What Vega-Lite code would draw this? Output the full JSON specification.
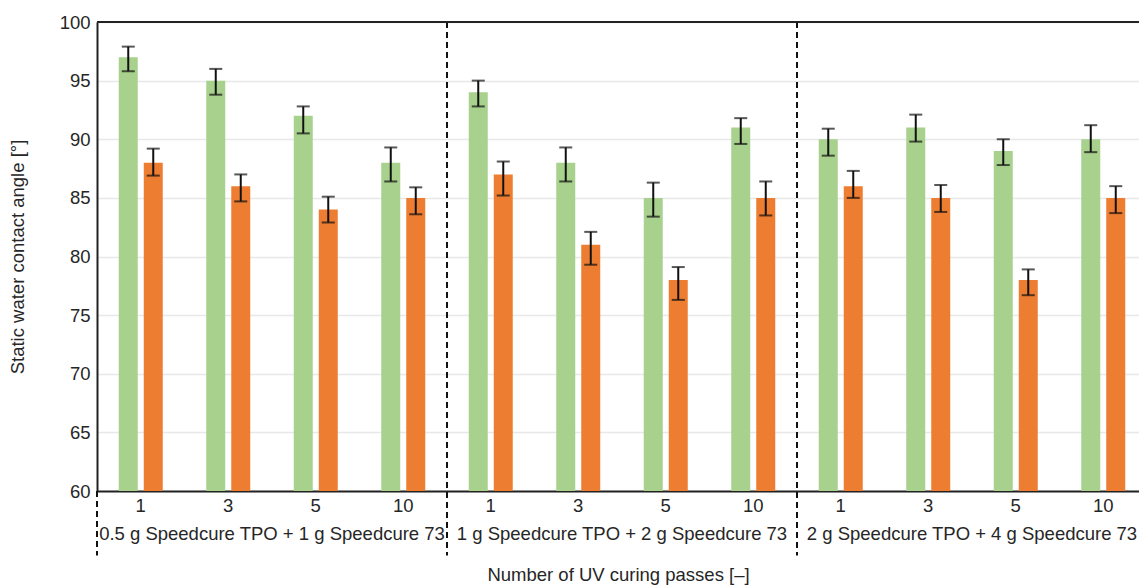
{
  "$schema": "https://vega.github.io/schema/vega-lite/v6.json",
  "width": 1042,
  "height": 469,
  "autosize": {"type": "none"},
  "padding": {"left": 97, "top": 22, "right": 0, "bottom": 95},
  "background": "white",
  "config": {
    "font": "Liberation Sans",
    "view": {"stroke": null},
    "axis": {"labelFont": "Liberation Sans", "titleFont": "Liberation Sans", "labelColor": "#262626", "titleColor": "#262626", "titleFontWeight": "normal"}
  },
  "datasets": {
    "angles": [
      {"slot": "g1|1", "series": "a", "value": 97, "lo": 95.8, "hi": 97.9},
      {"slot": "g1|1", "series": "b", "value": 88, "lo": 86.9, "hi": 89.2},
      {"slot": "g1|3", "series": "a", "value": 95, "lo": 93.8, "hi": 96.0},
      {"slot": "g1|3", "series": "b", "value": 86, "lo": 84.7, "hi": 87.0},
      {"slot": "g1|5", "series": "a", "value": 92, "lo": 90.5, "hi": 92.8},
      {"slot": "g1|5", "series": "b", "value": 84, "lo": 82.9, "hi": 85.1},
      {"slot": "g1|10", "series": "a", "value": 88, "lo": 86.4, "hi": 89.3},
      {"slot": "g1|10", "series": "b", "value": 85, "lo": 83.6, "hi": 85.9},
      {"slot": "g2|1", "series": "a", "value": 94, "lo": 92.8, "hi": 95.0},
      {"slot": "g2|1", "series": "b", "value": 87, "lo": 85.2, "hi": 88.1},
      {"slot": "g2|3", "series": "a", "value": 88, "lo": 86.4, "hi": 89.3},
      {"slot": "g2|3", "series": "b", "value": 81, "lo": 79.3, "hi": 82.1},
      {"slot": "g2|5", "series": "a", "value": 85, "lo": 83.4, "hi": 86.3},
      {"slot": "g2|5", "series": "b", "value": 78, "lo": 76.3, "hi": 79.1},
      {"slot": "g2|10", "series": "a", "value": 91, "lo": 89.6, "hi": 91.8},
      {"slot": "g2|10", "series": "b", "value": 85, "lo": 83.5, "hi": 86.4},
      {"slot": "g3|1", "series": "a", "value": 90, "lo": 88.6, "hi": 90.9},
      {"slot": "g3|1", "series": "b", "value": 86, "lo": 85.0, "hi": 87.3},
      {"slot": "g3|3", "series": "a", "value": 91, "lo": 89.8, "hi": 92.1},
      {"slot": "g3|3", "series": "b", "value": 85, "lo": 83.8, "hi": 86.1},
      {"slot": "g3|5", "series": "a", "value": 89, "lo": 87.8, "hi": 90.0},
      {"slot": "g3|5", "series": "b", "value": 78, "lo": 76.7, "hi": 78.9},
      {"slot": "g3|10", "series": "a", "value": 90, "lo": 88.9, "hi": 91.2},
      {"slot": "g3|10", "series": "b", "value": 85, "lo": 83.7, "hi": 86.0}
    ],
    "groups": [
      {"anchor": "g1|3", "label": "0.5 g Speedcure TPO + 1 g Speedcure 73", "y": 56.33},
      {"anchor": "g2|3", "label": "1 g Speedcure TPO + 2 g Speedcure 73", "y": 56.33},
      {"anchor": "g3|3", "label": "2 g Speedcure TPO + 4 g Speedcure 73", "y": 56.33}
    ],
    "dividers": [
      {"slot": "g1|1", "top": 60, "bottom": 54.5},
      {"slot": "g2|1", "top": 100, "bottom": 54.5},
      {"slot": "g3|1", "top": 100, "bottom": 54.5}
    ]
  },
  "layer": [
    {
      "data": {"name": "angles"},
      "mark": {"type": "bar"},
      "encoding": {
        "x": {
          "field": "slot", "type": "nominal",
          "scale": {"domain": ["g1|1", "g1|3", "g1|5", "g1|10", "g2|1", "g2|3", "g2|5", "g2|10", "g3|1", "g3|3", "g3|5", "g3|10"], "range": [0, 1050], "paddingInner": 0, "paddingOuter": 0},
          "axis": {
            "labelExpr": "split(datum.value, '|')[1]",
            "labelAngle": 0, "labelFontSize": 18.5, "labelPadding": 5,
            "ticks": false, "grid": false,
            "domainColor": "#222222", "domainWidth": 2,
            "title": "Number of UV curing passes [–]", "titleFontSize": 18.5, "titlePadding": 51, "titleX": 521
          }
        },
        "xOffset": {"field": "series", "type": "nominal", "scale": {"paddingInner": 0.24, "paddingOuter": 0.87}},
        "y": {
          "field": "value", "type": "quantitative",
          "scale": {"domain": [60, 100], "nice": false, "zero": false},
          "axis": {
            "values": [60, 65, 70, 75, 80, 85, 90, 95, 100],
            "labelFontSize": 18.5, "labelPadding": 7, "ticks": false,
            "grid": true, "gridColor": "#e8e8e8", "gridWidth": 1.5,
            "domainColor": "#222222", "domainWidth": 2,
            "title": "Static water contact angle [°]", "titleFontSize": 18.5, "titlePadding": 32
          }
        },
        "y2": {"datum": 60},
        "color": {"field": "series", "type": "nominal", "scale": {"domain": ["a", "b"], "range": ["#a9d18e", "#ed7d31"]}, "legend": null}
      }
    },
    {
      "data": {"name": "angles"},
      "mark": {"type": "rule", "color": "#111111", "strokeWidth": 2},
      "encoding": {
        "x": {"field": "slot", "type": "nominal"},
        "xOffset": {"field": "series", "type": "nominal"},
        "y": {"field": "lo", "type": "quantitative"},
        "y2": {"field": "hi"}
      }
    },
    {
      "data": {"name": "angles"},
      "mark": {"type": "tick", "color": "#111111", "thickness": 2, "size": 13},
      "encoding": {
        "x": {"field": "slot", "type": "nominal"},
        "xOffset": {"field": "series", "type": "nominal"},
        "y": {"field": "lo", "type": "quantitative"}
      }
    },
    {
      "data": {"name": "angles"},
      "mark": {"type": "tick", "color": "#111111", "thickness": 2, "size": 13},
      "encoding": {
        "x": {"field": "slot", "type": "nominal"},
        "xOffset": {"field": "series", "type": "nominal"},
        "y": {"field": "hi", "type": "quantitative"}
      }
    },
    {
      "data": {"name": "dividers"},
      "mark": {"type": "rule", "color": "#111111", "strokeWidth": 2, "strokeDash": [6, 4]},
      "encoding": {
        "x": {"field": "slot", "type": "nominal", "bandPosition": 0},
        "y": {"field": "top", "type": "quantitative"},
        "y2": {"field": "bottom"}
      }
    },
    {
      "data": {"name": "groups"},
      "mark": {"type": "text", "fontSize": 18.5, "color": "#262626", "baseline": "middle", "align": "center"},
      "encoding": {
        "x": {"field": "anchor", "type": "nominal", "bandPosition": 1},
        "y": {"field": "y", "type": "quantitative"},
        "text": {"field": "label"}
      }
    },
    {
      "data": {"values": [{"top": 100}]},
      "mark": {"type": "rule", "color": "#222222", "strokeWidth": 2},
      "encoding": {"y": {"field": "top", "type": "quantitative"}}
    }
  ]
}
